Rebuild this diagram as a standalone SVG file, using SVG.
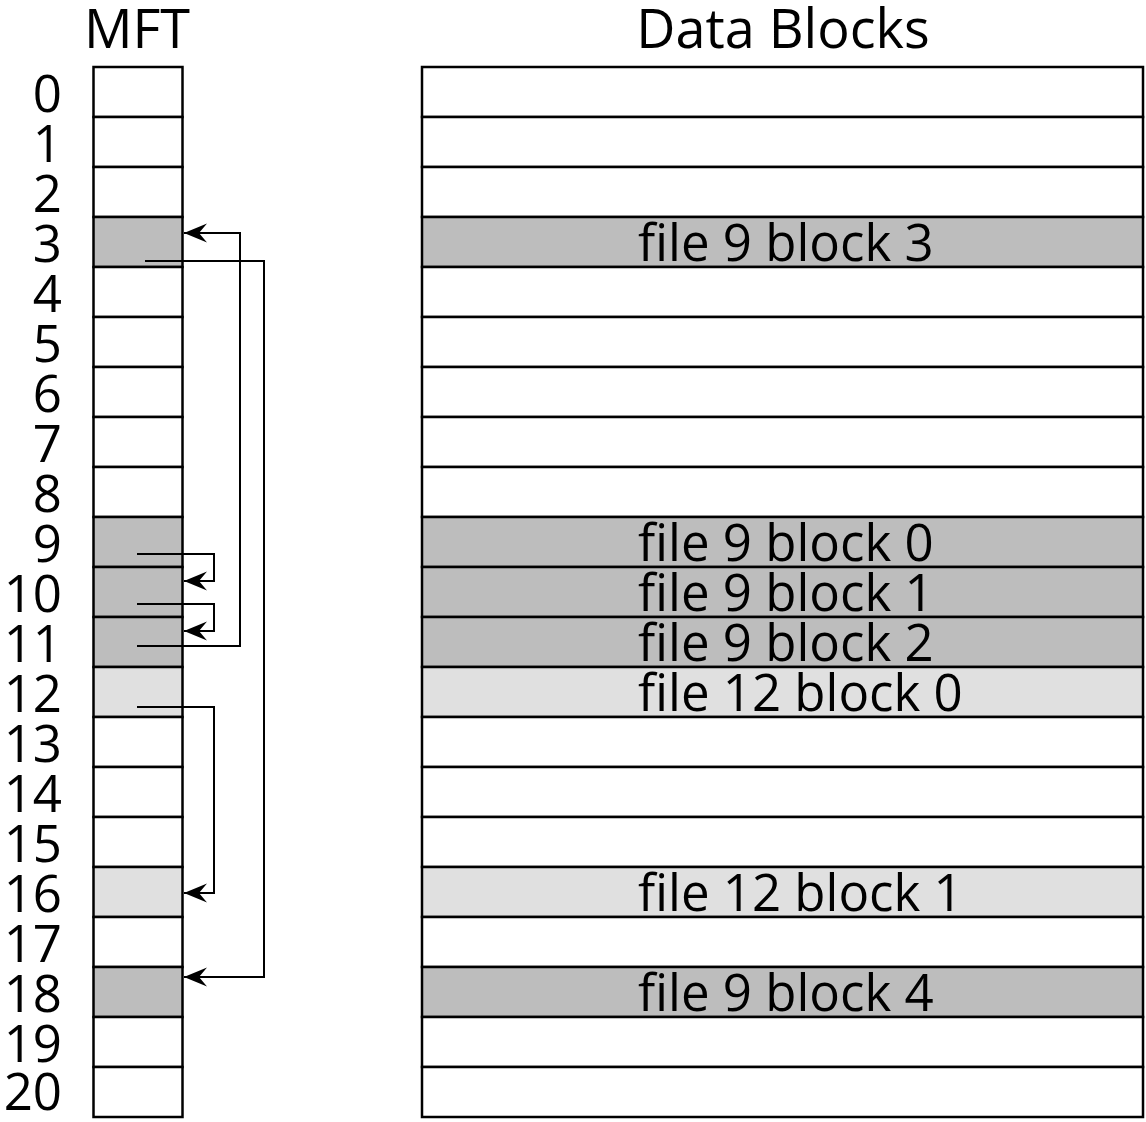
<svg xmlns="http://www.w3.org/2000/svg" width="1146" height="1122" viewBox="0 0 1146 1122">
<style>
text{font-family:"Open Sans","Liberation Sans",sans-serif;font-size:51px;fill:#000}
.num{text-anchor:end}
.cell{stroke:#000;stroke-width:2.5;fill:#fff}
.dk{fill:#bdbdbd}
.lt{fill:#e0e0e0}
.conn{fill:none;stroke:#000;stroke-width:2}
</style>
<defs>
<marker id="ah" markerUnits="userSpaceOnUse" markerWidth="24" markerHeight="22" refX="23" refY="10" orient="auto" viewBox="0 0 24 22">
<path d="M23,10 L0,0.5 L8,10 L0,19.5 Z" fill="#000"/>
</marker>
</defs>
<rect width="1146" height="1122" fill="#fff"/>
<text x="137" y="48" text-anchor="middle" style="font-size:54px">MFT</text>
<text x="783" y="48" text-anchor="middle" style="font-size:54px">Data Blocks</text>
<g id="mft">
<g id="mft0"><rect class="cell" x="93.5" y="67" width="89" height="50"/><text class="num" x="62" y="112">0</text></g>
<g id="mft1"><rect class="cell" x="93.5" y="117" width="89" height="50"/><text class="num" x="62" y="162">1</text></g>
<g id="mft2"><rect class="cell" x="93.5" y="167" width="89" height="50"/><text class="num" x="62" y="212">2</text></g>
<g id="mft3"><rect class="cell dk" x="93.5" y="217" width="89" height="50"/><text class="num" x="62" y="262">3</text></g>
<g id="mft4"><rect class="cell" x="93.5" y="267" width="89" height="50"/><text class="num" x="62" y="312">4</text></g>
<g id="mft5"><rect class="cell" x="93.5" y="317" width="89" height="50"/><text class="num" x="62" y="362">5</text></g>
<g id="mft6"><rect class="cell" x="93.5" y="367" width="89" height="50"/><text class="num" x="62" y="412">6</text></g>
<g id="mft7"><rect class="cell" x="93.5" y="417" width="89" height="50"/><text class="num" x="62" y="462">7</text></g>
<g id="mft8"><rect class="cell" x="93.5" y="467" width="89" height="50"/><text class="num" x="62" y="512">8</text></g>
<g id="mft9"><rect class="cell dk" x="93.5" y="517" width="89" height="50"/><text class="num" x="62" y="562">9</text></g>
<g id="mft10"><rect class="cell dk" x="93.5" y="567" width="89" height="50"/><text class="num" x="62" y="612">10</text></g>
<g id="mft11"><rect class="cell dk" x="93.5" y="617" width="89" height="50"/><text class="num" x="62" y="662">11</text></g>
<g id="mft12"><rect class="cell lt" x="93.5" y="667" width="89" height="50"/><text class="num" x="62" y="712">12</text></g>
<g id="mft13"><rect class="cell" x="93.5" y="717" width="89" height="50"/><text class="num" x="62" y="762">13</text></g>
<g id="mft14"><rect class="cell" x="93.5" y="767" width="89" height="50"/><text class="num" x="62" y="812">14</text></g>
<g id="mft15"><rect class="cell" x="93.5" y="817" width="89" height="50"/><text class="num" x="62" y="862">15</text></g>
<g id="mft16"><rect class="cell lt" x="93.5" y="867" width="89" height="50"/><text class="num" x="62" y="912">16</text></g>
<g id="mft17"><rect class="cell" x="93.5" y="917" width="89" height="50"/><text class="num" x="62" y="962">17</text></g>
<g id="mft18"><rect class="cell dk" x="93.5" y="967" width="89" height="50"/><text class="num" x="62" y="1012">18</text></g>
<g id="mft19"><rect class="cell" x="93.5" y="1017" width="89" height="50"/><text class="num" x="62" y="1062">19</text></g>
<g id="mft20"><rect class="cell" x="93.5" y="1067" width="89" height="50"/><text class="num" x="62" y="1110">20</text></g>
</g>
<g id="data">
<g id="db0"><rect class="cell" x="422" y="67" width="721" height="50"/></g>
<g id="db1"><rect class="cell" x="422" y="117" width="721" height="50"/></g>
<g id="db2"><rect class="cell" x="422" y="167" width="721" height="50"/></g>
<g id="db3"><rect class="cell dk" x="422" y="217" width="721" height="50"/><text x="638" y="261">file 9 block 3</text></g>
<g id="db4"><rect class="cell" x="422" y="267" width="721" height="50"/></g>
<g id="db5"><rect class="cell" x="422" y="317" width="721" height="50"/></g>
<g id="db6"><rect class="cell" x="422" y="367" width="721" height="50"/></g>
<g id="db7"><rect class="cell" x="422" y="417" width="721" height="50"/></g>
<g id="db8"><rect class="cell" x="422" y="467" width="721" height="50"/></g>
<g id="db9"><rect class="cell dk" x="422" y="517" width="721" height="50"/><text x="638" y="561">file 9 block 0</text></g>
<g id="db10"><rect class="cell dk" x="422" y="567" width="721" height="50"/><text x="638" y="611">file 9 block 1</text></g>
<g id="db11"><rect class="cell dk" x="422" y="617" width="721" height="50"/><text x="638" y="661">file 9 block 2</text></g>
<g id="db12"><rect class="cell lt" x="422" y="667" width="721" height="50"/><text x="638" y="711">file 12 block 0</text></g>
<g id="db13"><rect class="cell" x="422" y="717" width="721" height="50"/></g>
<g id="db14"><rect class="cell" x="422" y="767" width="721" height="50"/></g>
<g id="db15"><rect class="cell" x="422" y="817" width="721" height="50"/></g>
<g id="db16"><rect class="cell lt" x="422" y="867" width="721" height="50"/><text x="638" y="911">file 12 block 1</text></g>
<g id="db17"><rect class="cell" x="422" y="917" width="721" height="50"/></g>
<g id="db18"><rect class="cell dk" x="422" y="967" width="721" height="50"/><text x="638" y="1011">file 9 block 4</text></g>
<g id="db19"><rect class="cell" x="422" y="1017" width="721" height="50"/></g>
<g id="db20"><rect class="cell" x="422" y="1067" width="721" height="50"/></g>
</g>
<g id="connectors">
<path class="conn" d="M145,261 H264 V977 H184" marker-end="url(#ah)"/>
<path class="conn" d="M137,646 H240 V233 H184" marker-end="url(#ah)"/>
<path class="conn" d="M137,554 H214 V581 H184" marker-end="url(#ah)"/>
<path class="conn" d="M137,604 H214 V631 H184" marker-end="url(#ah)"/>
<path class="conn" d="M137,707 H214 V893 H184" marker-end="url(#ah)"/>
</g>
</svg>
